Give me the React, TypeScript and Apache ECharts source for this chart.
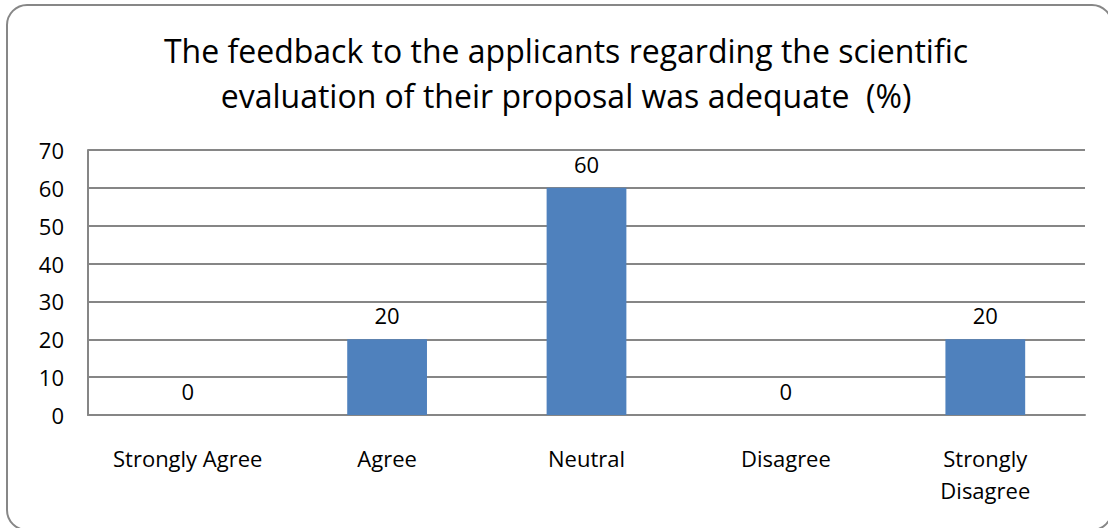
import React, { useEffect, useRef } from "react";
import * as echarts from "echarts";

const categories = ["Strongly Agree", "Agree", "Neutral", "Disagree", "Strongly\nDisagree"];
const values = [0, 20, 60, 0, 20];
const titleText = "The feedback to the applicants regarding the scientific\nevaluation of their proposal was adequate  (%)";
const yMin = 0;
const yMax = 70;
const yStep = 10;

const FONT = "'Open Sans', sans-serif";

export default function App() {
  const ref = useRef<HTMLDivElement>(null);
  useEffect(() => {
    if (!ref.current) return;
    const chart = echarts.init(ref.current, null, { renderer: "svg" });
    chart.setOption({
      animation: false,
      backgroundColor: "#ffffff",
      graphic: [
        {
          type: "rect",
          shape: { x: 7, y: 5, width: 1105, height: 525, r: 20 },
          style: { fill: "none", stroke: "#878787", lineWidth: 2 },
          silent: true,
        },
      ],
      title: {
        text: titleText,
        left: 561,
        textAlign: "center",
        top: 23,
        textStyle: {
          fontFamily: FONT,
          fontSize: 32,
          fontWeight: "normal",
          color: "#000",
          lineHeight: 45,
        },
      },
      grid: { left: 88, right: 23, top: 150, bottom: 113, containLabel: false },
      xAxis: {
        type: "category",
        data: categories,
        axisLine: { show: true, lineStyle: { color: "#868686", width: 2 } },
        axisTick: { show: false },
        axisLabel: {
          fontFamily: FONT,
          fontSize: 22,
          color: "#000",
          margin: 27,
          lineHeight: 32,
          interval: 0,
        },
      },
      yAxis: {
        type: "value",
        min: yMin,
        max: yMax,
        interval: yStep,
        axisLine: { show: true, lineStyle: { color: "#868686", width: 2 } },
        axisTick: { show: false },
        splitLine: { show: true, lineStyle: { color: "#868686", width: 2 } },
        axisLabel: {
          fontFamily: FONT,
          fontSize: 22,
          color: "#000",
          margin: 24,
        },
      },
      series: [
        {
          type: "bar",
          data: values,
          barWidth: "40%",
          itemStyle: { color: "#4F81BD" },
          label: {
            show: true,
            position: "top",
            distance: 13,
            fontFamily: FONT,
            fontSize: 22,
            color: "#000",
          },
        },
      ],
    });
    return () => chart.dispose();
  }, []);
  return (
    <div
      ref={ref}
      style={{ position: "fixed", left: 0, top: 0, width: 1108, height: 528 }}
    />
  );
}
